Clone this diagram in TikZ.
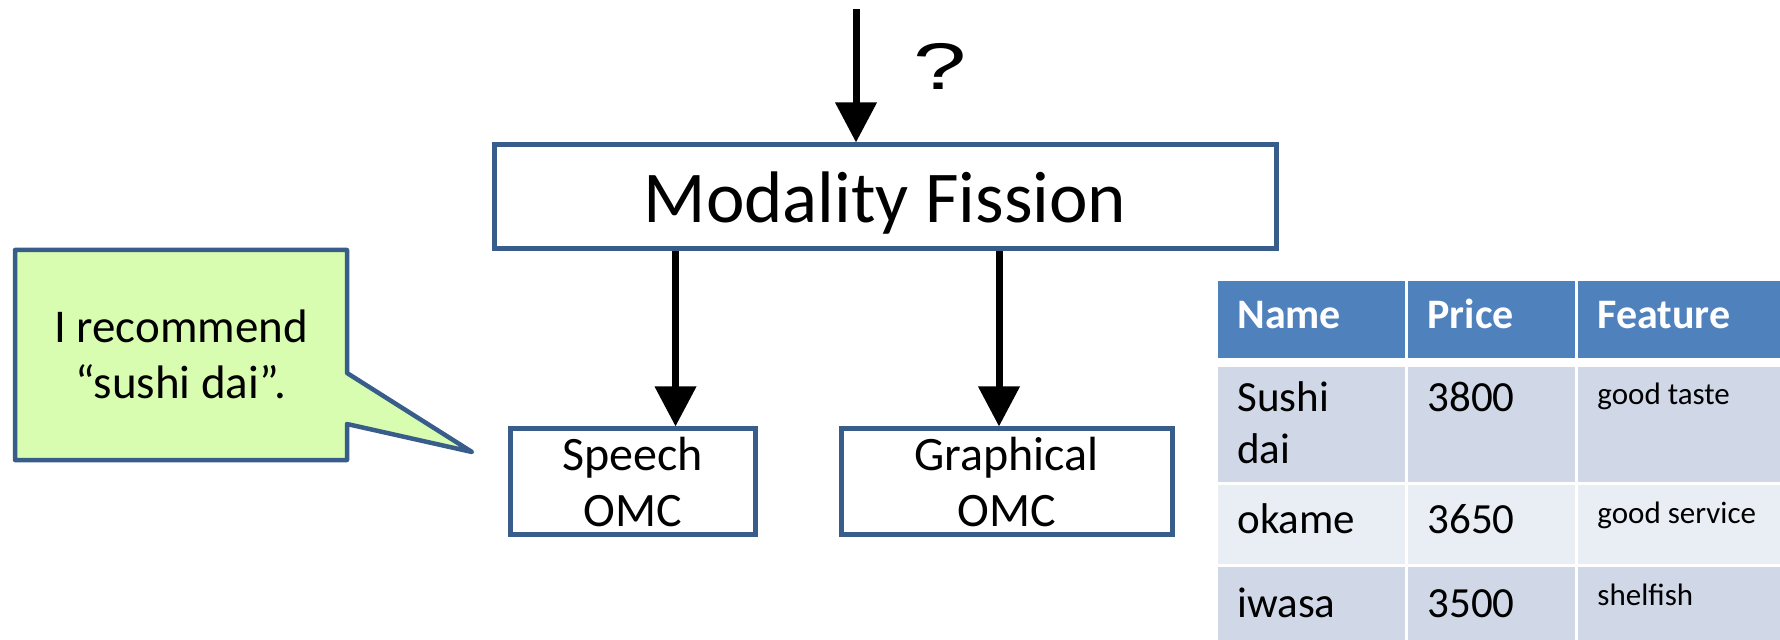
\documentclass[tikz,border=0pt]{standalone}
\usepackage{fontspec}
\setmainfont{Carlito}
\newfontfamily\qfont{Liberation Sans}
\usetikzlibrary{arrows.meta}

\definecolor{boxblue}{RGB}{56,93,138}
\definecolor{tipgreen}{RGB}{216,253,176}
\definecolor{hdrblue}{RGB}{79,129,189}
\definecolor{rowdark}{RGB}{208,216,232}
\definecolor{rowlight}{RGB}{233,237,244}

\begin{document}
\begin{tikzpicture}[x=0.5pt,y=-0.5pt,>={Triangle[length=20pt,width=20pt]},
  flow/.style={->,line width=3.5pt},
  module/.style={draw=boxblue,line width=2.5pt,inner sep=0pt,align=center},
  omc/.style={module,minimum height=52.5pt,font=\fontsize{24}{28}\selectfont},
  cell/.style={anchor=base west,inner sep=0pt,font=\fontsize{21.5}{25.5}\selectfont},
  smallcell/.style={cell,font=\fontsize{15.5}{18}\selectfont},
  head/.style={cell,text=white,font=\fontsize{21}{25}\selectfont\bfseries}]

  \useasboundingbox (0,0) rectangle (1780,640);

  % fission module and its two output components
  \node[module,minimum width=391pt,minimum height=52pt,text depth=0pt,
    font=\fontsize{36.5}{44}\selectfont] (fission) at (885,197) {Modality Fission};
  \node[omc,minimum width=122.5pt] (speech) at (632.5,481.5) {Speech\\OMC};
  \node[omc,minimum width=165.5pt] (graph) at (1006.5,481.5) {Graphical\\OMC};

  \coordinate (src) at (856,9);
  \draw[flow] (src) -- (src |- fission.north);
  \node[font=\qfont\fontsize{33}{40}\selectfont] (query) at (940,66) {\scalebox{1.45}[1]{?}};

  \draw[flow] ([xshift=21.5pt]speech.north |- fission.south) -- ([xshift=21.5pt]speech.north);
  \draw[flow] ([xshift=-3.75pt]graph.north |- fission.south) -- ([xshift=-3.75pt]graph.north);

  % speech balloon
  \draw[boxblue,line width=2.25pt,fill=tipgreen,line join=round]
    (15,250) -- (347,250) -- (347,373) -- (472,452) -- (347,424)
    -- (347,460) -- (15,460) -- cycle;
  \node[align=center,inner sep=0pt,font=\fontsize{23.5}{28}\selectfont] (utter) at (181,354)
    {I recommend\\“sushi dai”.};

  % restaurant table
  \foreach \l/\r/\t [count=\i] in {1218/1405/Name,1408/1575/Price,1578/1780/Feature}{
    \fill[hdrblue] (\l,281) rectangle (\r,358);
    \node[head] (head\i) at (\l+19,329) {\t};
  }
  \foreach \top/\bot/\c in {367/482/rowdark,485/564/rowlight,567/640/rowdark}
    \foreach \l/\r in {1218/1405,1408/1575,1578/1780}
      \fill[\c] (\l,\top) rectangle (\r,\bot);

  \node[cell] (name1) at (1237,412) {Sushi};
  \node[cell] (name1b) at (1237,463) {dai};
  \node[cell] (price1) at (1427,412) {3800};
  \node[smallcell] (feat1) at (1597,405) {good taste};

  \node[cell] (name2) at (1237,533) {okame};
  \node[cell] (price2) at (1427,533) {3650};
  \node[smallcell] (feat2) at (1597,523) {good service};

  \node[cell] (name3) at (1237,617) {iwasa};
  \node[cell] (price3) at (1427,617) {3500};
  \node[smallcell] (feat3) at (1597,605) {shelfish};
\end{tikzpicture}
\end{document}
